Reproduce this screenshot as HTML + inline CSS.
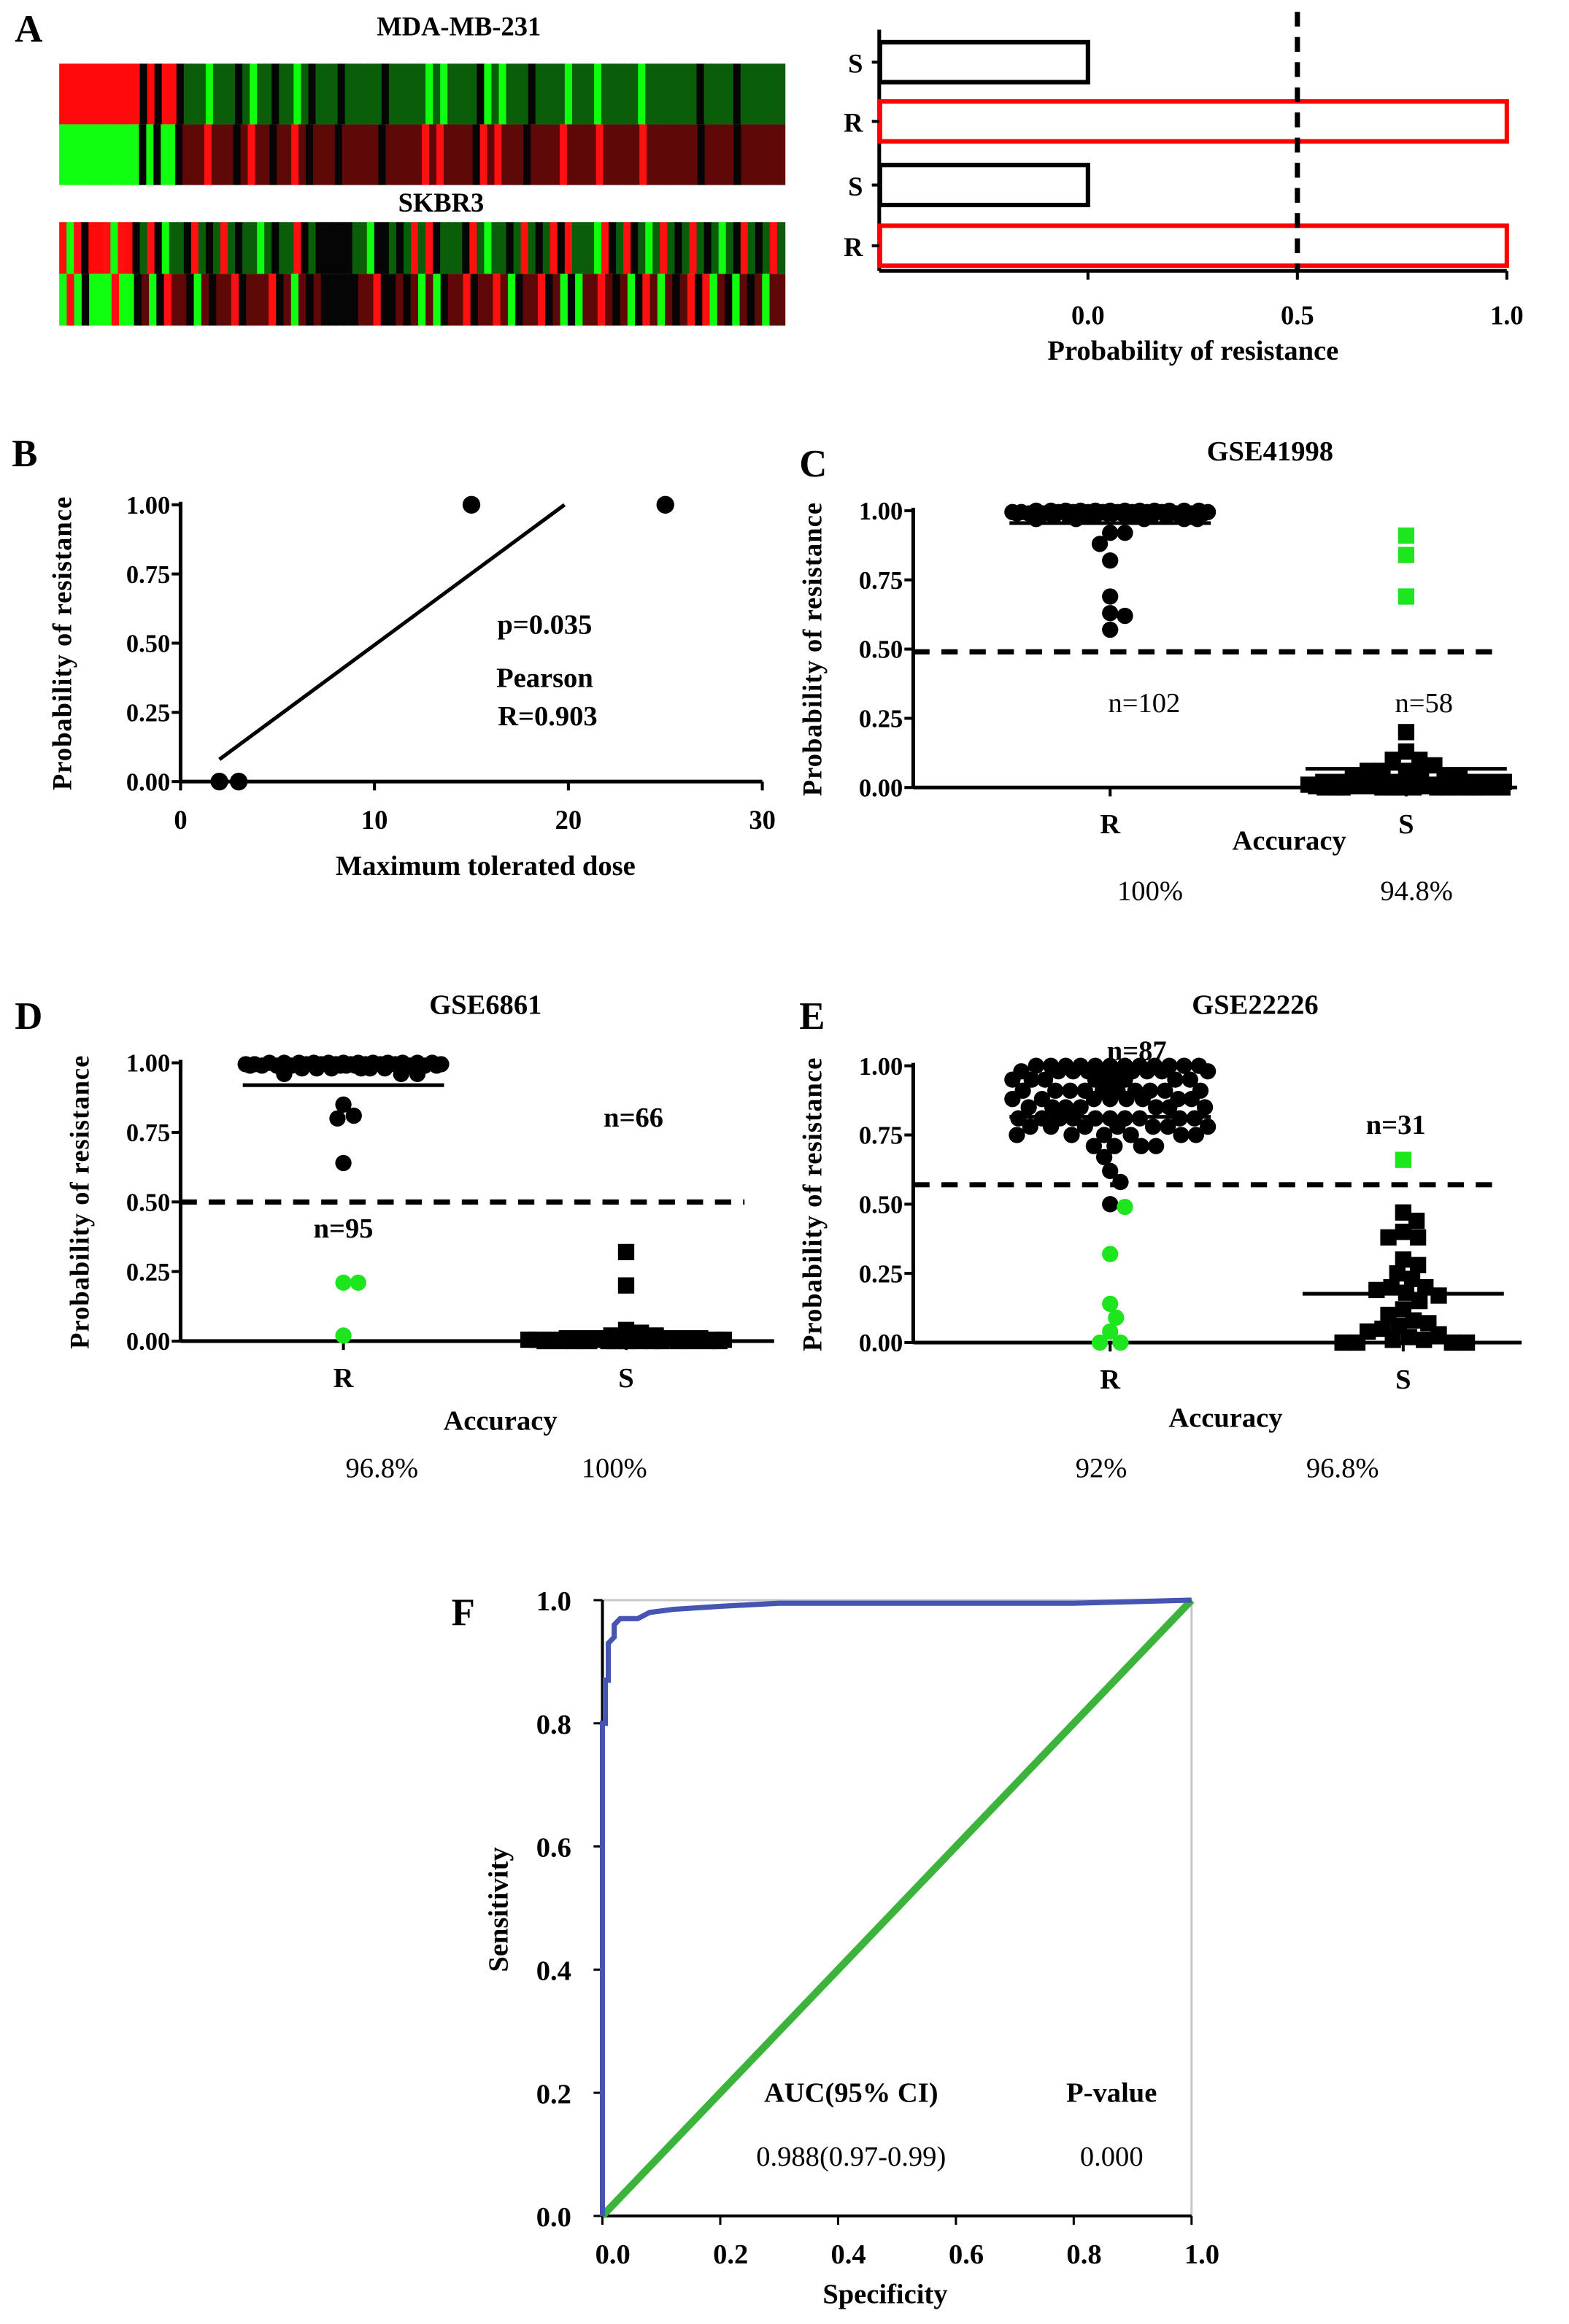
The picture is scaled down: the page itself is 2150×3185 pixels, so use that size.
<!DOCTYPE html>
<html><head><meta charset="utf-8"><style>
html,body{margin:0;padding:0;background:#fff}
svg{display:block}
text{font-family:"Liberation Serif",serif}
.b{font-weight:bold}
</style></head><body>
<svg id="fig" width="2150" height="3185" viewBox="0 0 1060 1570" preserveAspectRatio="none" xmlns="http://www.w3.org/2000/svg">
<g id="static">
<text x="10" y="28" font-size="26" class="b">A</text>
<text x="310" y="24" font-size="18" class="b" text-anchor="middle">MDA-MB-231</text>
<text x="298" y="143" font-size="18" class="b" text-anchor="middle">SKBR3</text>
<g id="heat"></g>
<g id="barA"></g>
<text x="8" y="315" font-size="26" class="b">B</text>
<text x="540" y="322" font-size="26" class="b">C</text>
<text x="10" y="695" font-size="26" class="b">D</text>
<text x="540" y="695" font-size="26" class="b">E</text>
<text x="305" y="1098" font-size="26" class="b">F</text>
</g>
<g id="B"></g>
<g id="C"></g>
<g id="D"></g>
<g id="E"></g>
<g id="F"></g>
</svg>
<script>
// ---------- data ----------
const heatMdaTop = "RRRRRRRRRRRkRkRRkgggGgggkgGggkggGgkgggkgggggkgggggGgGggggkGgGgggkggggGgggGgggggGgggggggkggggkgggggg";
const heatMdaBot = "GGGGGGGGGGGkGkGGkdddrdddkdrddkddrdkdddkdddddkdddddrdrddddkrdrdddkddddrddddrdddddrdddddddkddddkdddddd";
const heatSkTop = "rGrkRRrGrRkgrkGggkrgkgrgkggGgkggrkgkkkkkggGkkgkgrgrkgggkrgGggkgrgkgrkrgggGrkgrkgGgrgkgrgkgGgkrgkgrg";
const heatSkBot = "GrGkGGGrGGkdGkrddkGdkddrkdddrkdGdkdkkkkkddrkkdkdGdGkddrkddrdGkddrkdGkGddrdkdGkrdGdkdrkrGdkGdkdGdd";
const barLabels = ["S","R","S","R"];
const barValues = [0, 1, 0, 1];
const barColors = ["#000","#f00","#000","#f00"];
const bDose = [2, 3, 15, 25];
const bProb = [0, 0, 1, 1];
const bFitX = [2, 19.8];
const bFitY = [0.08, 1.0];
const cR = [1,1,1,1,1,1,1,1,1,1,1,1,0.995,0.995,0.995,0.995,0.995,0.995,0.995,0.995,0.995,0.995,0.995,0.99,0.99,0.99,0.99,0.99,0.99,0.99,0.99,0.99,0.99,0.98,0.98,0.98,0.98,0.98,0.98,0.98,0.98,0.97,0.97,0.97,0.97,0.97,0.92,0.92,0.88,0.82,0.69,0.63,0.62,0.57];
const cRgreen = [];
const cS = [0,0,0,0,0,0,0,0,0,0,0,0,0,0,0.005,0.005,0.005,0.005,0.005,0.005,0.005,0.005,0.005,0.005,0.01,0.01,0.01,0.01,0.01,0.01,0.01,0.01,0.01,0.02,0.02,0.02,0.02,0.02,0.02,0.04,0.04,0.04,0.04,0.06,0.06,0.06,0.08,0.1,0.1,0.13,0.2];
const cSgreen = [0.91,0.84,0.69];
const dR = [1,1,1,1,1,1,1,1,1,1,1,1,0.995,0.995,0.995,0.995,0.995,0.995,0.995,0.995,0.995,0.995,0.99,0.99,0.99,0.99,0.99,0.99,0.99,0.99,0.99,0.99,0.98,0.98,0.98,0.98,0.98,0.98,0.96,0.96,0.96,0.85,0.81,0.80,0.64];
const dRgreen = [0.21,0.21,0.02];
const dS = [0,0,0,0,0,0,0,0,0,0,0,0,0,0,0.005,0.005,0.005,0.005,0.005,0.005,0.005,0.005,0.005,0.01,0.01,0.01,0.01,0.01,0.01,0.02,0.02,0.03,0.04,0.2,0.32];
const dSgreen = [];
const eR = [1,1,1,1,1,1,1,1,1,1,1,1,0.98,0.98,0.98,0.98,0.98,0.98,0.98,0.98,0.98,0.98,0.95,0.95,0.95,0.95,0.95,0.95,0.95,0.95,0.91,0.91,0.91,0.91,0.91,0.91,0.91,0.91,0.91,0.91,0.88,0.88,0.88,0.88,0.88,0.88,0.88,0.88,0.85,0.85,0.85,0.85,0.85,0.85,0.85,0.81,0.81,0.81,0.81,0.81,0.81,0.81,0.81,0.81,0.81,0.78,0.78,0.78,0.78,0.78,0.78,0.78,0.75,0.75,0.75,0.75,0.75,0.75,0.71,0.71,0.71,0.71,0.67,0.62,0.58,0.5];
const eRgreen = [0.49,0.32,0.14,0.09,0.04,0,0];
const eS = [0.47,0.44,0.4,0.38,0.38,0.3,0.28,0.25,0.23,0.2,0.2,0.19,0.18,0.17,0.15,0.12,0.1,0.08,0.07,0.06,0.05,0.04,0.03,0.02,0.01,0.01,0,0,0,0];
const eSgreen = [0.66];
const yTicks = [0, 0.25, 0.5, 0.75, 1.0];
const yTickLabels = ["0.00","0.25","0.50","0.75","1.00"];
const bXTicks = [0,10,20,30];
const rocFpr = [0,0,0.005,0.005,0.01,0.01,0.02,0.02,0.03,0.06,0.08,0.12,0.2,0.3,0.8,1];
const rocTpr = [0,0.8,0.8,0.87,0.87,0.93,0.94,0.96,0.97,0.97,0.98,0.985,0.99,0.995,0.995,1];
const rocTicks = [0,0.2,0.4,0.6,0.8,1.0];
const rocTickLabels = ["0.0","0.2","0.4","0.6","0.8","1.0"];

// ---------- helpers ----------
const NS="http://www.w3.org/2000/svg";
function mk(parent,tag,attrs,txt){const e=document.createElementNS(NS,tag);for(const k in attrs)e.setAttribute(k,attrs[k]);if(txt!==undefined)e.textContent=txt;parent.appendChild(e);return e;}
const colMap={R:"#ff0a0a",r:"#ff1010",G:"#10ff10",g:"#0a5e0a",k:"#050505",d:"#5e0808"};

// heatmaps
const heat=document.getElementById('heat');
function drawHeat(str,x0,y0,w,h,name){const n=str.length;const cw=w/n;for(let i=0;i<n;i++){const e=mk(heat,'rect',{x:x0+i*cw,y:y0,width:cw+0.6,height:h,fill:colMap[str[i]]});

}}
drawHeat(heatMdaTop,40,43,490,41,'heat-cell-mda-row1');
drawHeat(heatMdaBot,40,84,490,41,'heat-cell-mda-row2');
drawHeat(heatSkTop,40,150,490,35,'heat-cell-skbr3-row1');
drawHeat(heatSkBot,40,185,490,35,'heat-cell-skbr3-row2');

// bar chart A
const A=document.getElementById('barA');
const ax=v=>735+(v-0)*283;
const barY=[42,82,125,166];
mk(A,'line',{x1:594,y1:20,x2:594,y2:183,stroke:'#000','stroke-width':2.5});
mk(A,'line',{x1:594,y1:183,x2:1018,y2:183,stroke:'#000','stroke-width':2.5});
barLabels.forEach((l,i)=>{const y=barY[i];const x0=ax(-0.5);const x1=ax(barValues[i]);
const r=mk(A,'rect',{x:x0+1,y:y-13.5,width:x1-x0-1,height:27,fill:'none',stroke:barColors[i],'stroke-width':3});


mk(A,'line',{x1:589,y1:y,x2:594,y2:y,stroke:'#000','stroke-width':2});
const t=mk(A,'text',{x:583,y:y+7,'font-size':18,'text-anchor':'end',class:'b'},l);

});
mk(A,'line',{x1:ax(0.5),y1:8,x2:ax(0.5),y2:183,stroke:'#000','stroke-width':3.5,'stroke-dasharray':'10,7'});
[0,0.5,1].forEach(v=>{mk(A,'line',{x1:ax(v),y1:183,x2:ax(v),y2:189,stroke:'#000','stroke-width':2});
const t=mk(A,'text',{x:ax(v),y:219,'font-size':18,'text-anchor':'middle',class:'b'},v.toFixed(1));

});
{const t=mk(A,'text',{x:806,y:243,'font-size':19,'text-anchor':'middle',class:'b'},'Probability of resistance');

}

// y-axis common
function yAxis(g,x0,yTop,yBot,xEnd,labelX){const sy=v=>yBot-(yBot-yTop)*v;
mk(g,'line',{x1:x0,y1:yTop-2,x2:x0,y2:yBot,stroke:'#000','stroke-width':2.5});
mk(g,'line',{x1:x0,y1:yBot,x2:xEnd,y2:yBot,stroke:'#000','stroke-width':2.5});
yTicks.forEach((v,i)=>{mk(g,'line',{x1:x0-6,y1:sy(v),x2:x0,y2:sy(v),stroke:'#000','stroke-width':2});
const t=mk(g,'text',{x:x0-7,y:sy(v)+6,'font-size':17,'text-anchor':'end',class:'b'},yTickLabels[i]);

});
const t=mk(g,'text',{x:0,y:0,'font-size':18,'text-anchor':'middle',class:'b','letter-spacing':'0.5',transform:`translate(${labelX},${(yTop+yBot)/2}) rotate(-90)`},'Probability of resistance');


return sy;}

// B
const B=document.getElementById('B');
const syB=yAxis(B,122,341,528,515,48);
const sxB=v=>122+v*13.1;
bXTicks.forEach(v=>{mk(B,'line',{x1:sxB(v),y1:528,x2:sxB(v),y2:534,stroke:'#000','stroke-width':2});
const t=mk(B,'text',{x:sxB(v),y:560,'font-size':18,'text-anchor':'middle',class:'b'},String(v));

});
{const l=mk(B,'line',{x1:sxB(bFitX[0]),y1:syB(bFitY[0]),x2:sxB(bFitX[1]),y2:syB(bFitY[1]),stroke:'#000','stroke-width':2.5});

}
bDose.forEach((d,i)=>{const c=mk(B,'circle',{cx:sxB(d),cy:syB(bProb[i]),r:6,fill:'#000'});

});
[['p=0.035',368,428],['Pearson',368,464],['R=0.903',370,490]].forEach(a=>{const t=mk(B,'text',{x:a[1],y:a[2],'font-size':19,'text-anchor':'middle',class:'b'},a[0]);

});
{const t=mk(B,'text',{x:328,y:591,'font-size':19,'text-anchor':'middle',class:'b'},'Maximum tolerated dose');

}

// swarm with collision packing, capped width
function swarm(g,vals,cx,sy,shape,color,name,size,placed){const d=size*0.9,cap=66;
const sorted=vals.slice().sort((a,b)=>b-a);
sorted.forEach(v=>{const py=sy(v);let best=null,bestScore=-1;
for(let s=0;s<=cap;s+=1){for(const sg of (s===0?[1]:[1,-1])){const x=cx+s*sg;let mind=1e9;
for(const p of placed){const dd=Math.hypot(p[0]-x,p[1]-py);if(dd<mind)mind=dd;}
if(mind>=d){best=x;bestScore=1e9;break;}if(mind>bestScore){bestScore=mind;best=x;}}
if(bestScore===1e9)break;}
placed.push([best,py]);let e;
if(shape==='c')e=mk(g,'circle',{cx:best,cy:py,r:size/2,fill:color});else e=mk(g,'rect',{x:best-size/2,y:py-size/2,width:size,height:size,fill:color});

});}
function panel(id,o){const g=document.getElementById(id);const sy=yAxis(g,o.x0,o.yTop,o.yBot,o.xEnd,o.x0-62);
const tt=mk(g,'text',{x:o.titleX,y:o.titleY,'font-size':19,'text-anchor':'middle',class:'b'},o.title);


[[o.rx,'R'],[o.sx,'S']].forEach(a=>{mk(g,'line',{x1:a[0],y1:o.yBot,x2:a[0],y2:o.yBot+6,stroke:'#000','stroke-width':2});
const t=mk(g,'text',{x:a[0],y:o.yBot+31,'font-size':19,'text-anchor':'middle',class:'b'},a[1]);

});
const dl=mk(g,'line',{x1:o.x0,y1:sy(o.thr),x2:o.dashEnd,y2:sy(o.thr),stroke:'#000','stroke-width':3.5,'stroke-dasharray':'11,8'});


const pr=[],ps=[];
swarm(g,o.R,o.rx,sy,'c','#000','point-r',11,pr);swarm(g,o.Rg,o.rx,sy,'c','#1ee61e','point-r-misclassified',11,pr);
swarm(g,o.S,o.sx,sy,'s','#000','point-s',11,ps);swarm(g,o.Sg,o.sx,sy,'s','#1ee61e','point-s-misclassified',11,ps);
const meanR=o.R.concat(o.Rg).reduce((a,b)=>a+b,0)/(o.R.length+o.Rg.length);const meanS=o.S.concat(o.Sg).reduce((a,b)=>a+b,0)/(o.S.length+o.Sg.length);
[[o.rx,meanR],[o.sx,meanS]].forEach(a=>{const l=mk(g,'line',{x1:a[0]-68,y1:sy(a[1]),x2:a[0]+68,y2:sy(a[1]),stroke:'#000','stroke-width':2.5});

});
o.texts.forEach(a=>{const t=mk(g,'text',{x:a[1],y:a[2],'font-size':19,'text-anchor':'middle',class:a[3]?'b':''},a[0]);

});}
panel('C',{x0:617,yTop:345,yBot:532,xEnd:1025,rx:750,sx:950,thr:0.49,dashEnd:1008,title:'GSE41998',titleX:858,titleY:311,R:cR,Rg:cRgreen,S:cS,Sg:cSgreen,
texts:[['n=102',773,481,0],['n=58',962,481,0],['Accuracy',871,574,1],['100%',777,608,0],['94.8%',957,608,0]]});
panel('D',{x0:122,yTop:718,yBot:906,xEnd:523,rx:232,sx:423,thr:0.5,dashEnd:503,title:'GSE6861',titleX:328,titleY:685,R:dR,Rg:dRgreen,S:dS,Sg:dSgreen,
texts:[['n=66',428,761,1],['n=95',232,836,1],['Accuracy',338,966,1],['96.8%',258,998,0],['100%',415,998,0]]});
panel('E',{x0:617,yTop:720,yBot:907,xEnd:1028,rx:750,sx:948,thr:0.57,dashEnd:1008,title:'GSE22226',titleX:848,titleY:685,R:eR,Rg:eRgreen,S:eS,Sg:eSgreen,
texts:[['n=87',768,716,1],['n=31',943,766,1],['Accuracy',828,964,1],['92%',744,998,0],['96.8%',907,998,0]]});

// F ROC
const F=document.getElementById('F');
const fx=v=>407+v*398, fy=v=>1497-v*416;
mk(F,'rect',{x:407,y:1081,width:398,height:416,fill:'none',stroke:'#c8c8c8','stroke-width':1.5});
mk(F,'line',{x1:407,y1:1081,x2:407,y2:1497,stroke:'#000','stroke-width':2});
mk(F,'line',{x1:407,y1:1497,x2:805,y2:1497,stroke:'#000','stroke-width':2});
rocTicks.forEach((v,i)=>{mk(F,'line',{x1:401,y1:fy(v),x2:407,y2:fy(v),stroke:'#000','stroke-width':1.5});
mk(F,'line',{x1:fx(v),y1:1497,x2:fx(v),y2:1503,stroke:'#000','stroke-width':1.5});
const t1=mk(F,'text',{x:386,y:fy(v)+7,'font-size':19,'text-anchor':'end',class:'b'},rocTickLabels[i]);


const t2=mk(F,'text',{x:fx(v)+7,y:1529,'font-size':19,'text-anchor':'middle',class:'b'},rocTickLabels[i]);

});
{const d=mk(F,'line',{x1:fx(0),y1:fy(0),x2:fx(1),y2:fy(1),stroke:'#3cb43c','stroke-width':5});


const pts=rocFpr.map((v,i)=>fx(v)+','+fy(rocTpr[i])).join(' ');
const p=mk(F,'polyline',{points:pts,fill:'none',stroke:'#4655b4','stroke-width':3.5});

}
[['Sensitivity',0,0,1,'rotate'],['Specificity',598,1556,1],['AUC(95% CI)',575,1420,1],['P-value',751,1420,1],['0.988(0.97-0.99)',575,1463,0],['0.000',751,1463,0]].forEach(a=>{
const at={x:a[1],y:a[2],'font-size':19,'text-anchor':'middle'};if(a[3])at.class='b';if(a[4])at.transform='translate(343,1290) rotate(-90)';
const t=mk(F,'text',at,a[0]);

});
</script>
</body></html>
